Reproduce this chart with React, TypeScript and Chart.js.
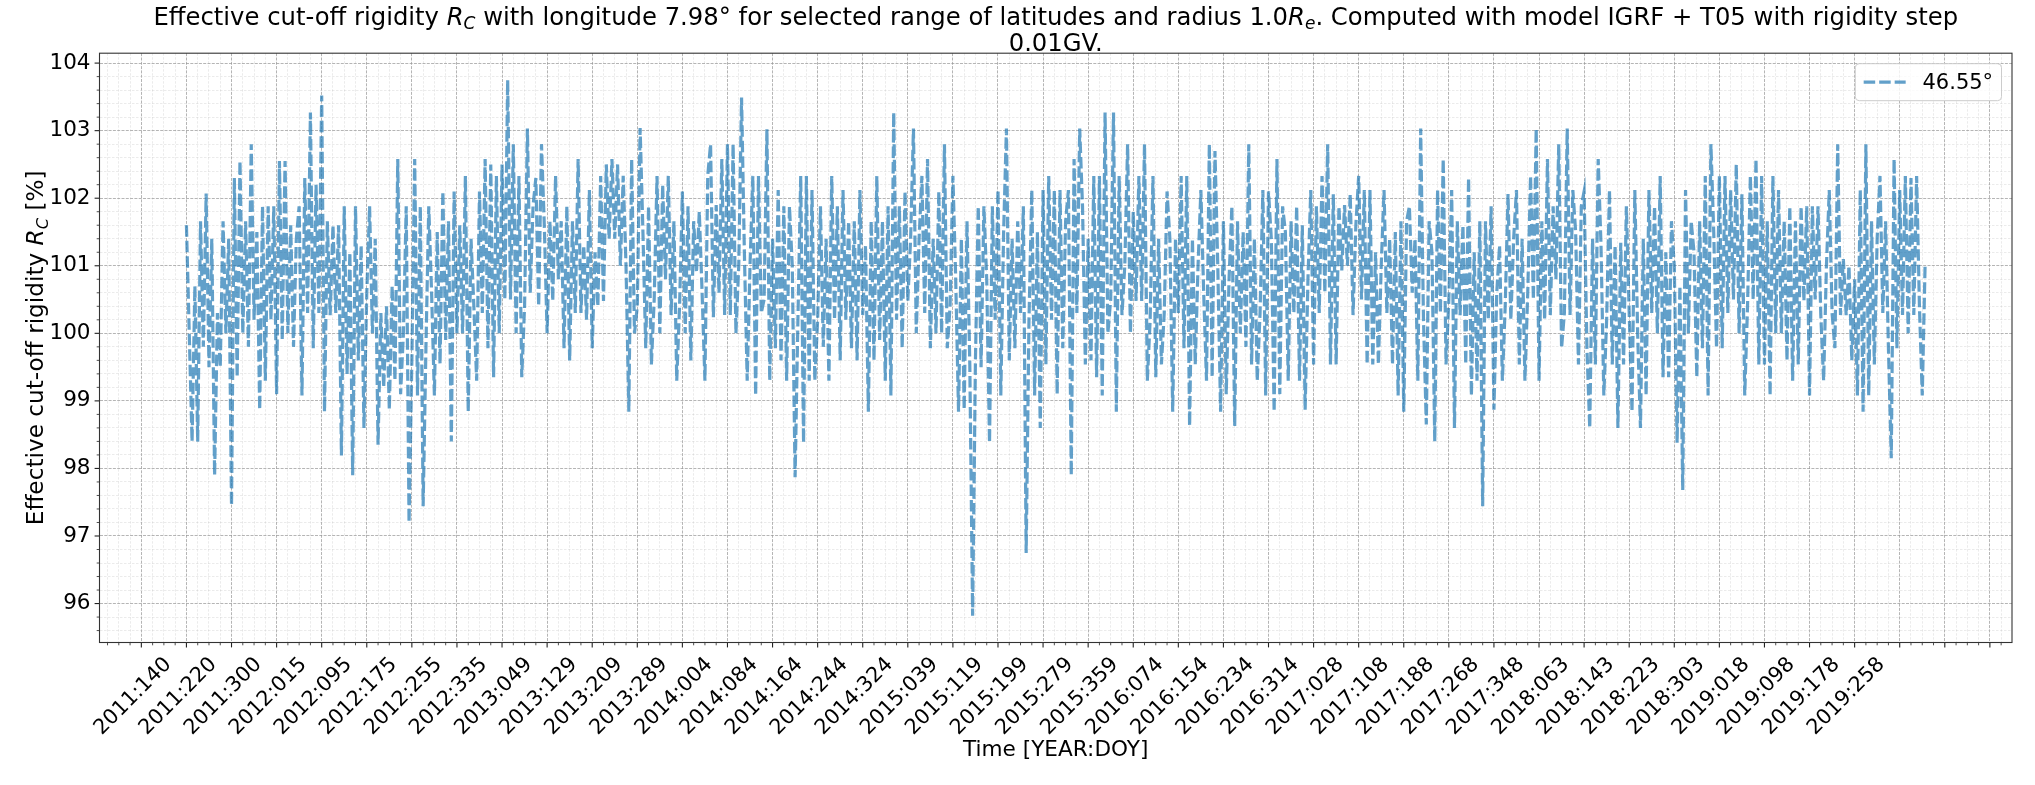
import React, { useEffect, useRef } from "react";
import { Chart, registerables } from "chart.js";

Chart.register(...registerables);

// ---------------- data ----------------
const SERIES_LABEL = "46.55°";
const DAY_STEP = 5; // one reading every 5 days, starting at the first day of the record

const rigidity: number[] = [
  // strip 1
  101.6, 100.0, 98.4, 100.7, 98.4, 101.66, 99.8, 102.07, 99.5, 101.4,
  97.9, 100.3, 99.5, 101.66, 100.0, 101.4, 97.45, 102.3, 99.35, 102.55,
  100.0, 101.66, 99.8, 102.8, 100.2, 101.5, 98.87, 101.88, 99.3, 101.88,
  100.2, 101.88, 99.1, 102.55, 99.9, 102.55, 100.0, 101.6, 99.8, 101.4,
  101.88, 99.08, 102.3, 100.3, 103.27, 99.78, 102.2, 100.3, 103.52, 98.84,
  101.66, 100.27, 101.6, 100.3, 101.6, 98.19, 101.88, 99.4, 101.2, 97.9,
  101.88, 99.6,
  // strip 2
  101.3, 98.6, 100.6, 101.88, 100.0, 101.4, 98.35, 100.3, 99.2, 100.4,
  98.87, 100.7, 99.3, 102.58, 99.1, 100.0, 101.88, 97.2, 99.6, 102.58,
  99.08, 101.88, 97.44, 99.8, 101.88, 100.6, 99.08, 101.5, 99.55, 102.1,
  99.9, 101.66, 98.4, 102.1, 100.0, 101.6, 100.0, 102.33, 98.84, 101.4,
  100.4, 99.3, 102.1, 100.3, 102.58, 99.78, 102.5, 99.35, 102.33, 100.0,
  102.5, 100.5, 103.75, 100.5, 102.8, 100.0, 102.33, 99.35, 100.4, 103.03,
  100.6, 101.88,
  // strip 3
  102.3, 100.4, 102.8, 101.6, 100.0, 101.66, 100.48, 102.33, 100.8, 101.66,
  99.78, 101.88, 99.6, 101.66, 100.3, 102.58, 100.3, 101.3, 100.2, 102.12,
  99.78, 101.2, 100.4, 102.33, 100.48, 102.5, 101.4, 102.58, 101.4, 102.5,
  101.0, 102.33, 101.0, 98.84, 102.58, 100.0, 100.4, 103.04, 101.5, 99.78,
  101.88, 99.54, 100.5, 102.33, 100.0, 102.2, 100.8, 102.33, 100.27, 101.66,
  99.3, 100.4, 102.1, 100.0, 101.88, 99.6, 101.66, 100.9, 101.8, 100.6,
  99.3, 102.33,
  // strip 4
  102.8, 100.24, 101.9, 100.6, 102.58, 100.27, 102.8, 100.27, 102.8, 100.0,
  101.0, 103.49, 101.2, 99.3, 101.0, 102.33, 99.08, 102.33, 100.3, 100.5,
  103.02, 99.3, 101.4, 99.78, 102.12, 99.6, 101.88, 99.3, 101.88, 101.0,
  97.87, 100.2, 102.33, 98.38, 102.33, 99.3, 102.12, 99.3, 100.2, 101.88,
  99.8, 101.4, 99.3, 102.33, 100.2, 101.88, 99.6, 102.12, 100.2, 101.66,
  99.78, 101.66, 99.6, 102.12, 100.27, 101.3, 98.84, 101.66, 99.6, 102.33,
  99.9, 101.66,
  // strip 5
  99.3, 101.88, 99.08, 103.27, 100.2, 101.88, 99.78, 102.1, 100.48, 101.4,
  103.03, 100.0, 101.4, 102.33, 100.3, 102.58, 99.78, 101.4, 100.0, 102.1,
  100.0, 102.8, 99.78, 100.4, 102.33, 100.8, 98.84, 101.4, 98.87, 101.66,
  99.54, 95.82, 99.6, 101.88, 99.5, 101.88, 100.8, 98.38, 101.88, 100.2,
  102.12, 99.08, 101.5, 103.03, 99.6, 101.4, 99.78, 101.66, 100.3, 101.88,
  96.75, 100.2, 102.12, 99.08, 101.5, 98.6, 102.12, 99.54, 102.33, 100.2,
  102.12, 99.1,
  // strip 6
  102.12, 99.78, 101.66, 102.12, 97.9, 102.58, 100.3, 103.03, 101.88, 99.54,
  101.4, 99.6, 102.33, 99.35, 102.33, 99.08, 103.27, 100.0, 100.5, 103.27,
  98.84, 102.33, 100.27, 101.0, 102.8, 100.0, 101.8, 100.48, 102.33, 100.48,
  102.8, 99.3, 100.2, 102.33, 99.35, 101.4, 99.54, 100.3, 102.1, 101.4,
  98.84, 101.4, 100.3, 102.33, 99.78, 102.33, 98.63, 101.4, 99.54, 101.0,
  102.12, 100.6, 99.3, 102.8, 99.35, 102.7, 101.0, 98.84, 101.66, 99.1,
  100.8, 101.88,
  // strip 7
  98.63, 101.66, 100.0, 101.5, 99.8, 102.8, 99.54, 101.4, 99.3, 100.3,
  102.12, 99.08, 102.1, 101.4, 98.84, 102.58, 99.1, 101.88, 101.5, 99.3,
  101.66, 100.3, 101.88, 99.3, 101.6, 98.87, 100.8, 102.12, 99.54, 101.88,
  100.3, 102.33, 100.6, 102.8, 99.54, 102.06, 99.54, 101.88, 100.93, 101.9,
  101.0, 102.06, 100.27, 101.6, 102.33, 100.5, 102.12, 99.54, 102.12, 99.54,
  101.2, 99.54, 101.0, 102.12, 100.3, 101.4, 99.54, 101.5, 99.08, 101.66,
  98.84, 101.66,
  // strip 8
  101.88, 100.6, 101.4, 99.3, 103.03, 100.2, 98.65, 101.66, 101.2, 98.4,
  102.12, 100.3, 102.58, 99.54, 100.5, 102.12, 98.6, 101.66, 100.27, 101.6,
  99.54, 102.3, 99.08, 101.2, 99.3, 101.66, 97.44, 101.66, 100.2, 101.88,
  98.87, 100.6, 101.3, 99.3, 100.4, 102.06, 100.2, 101.4, 102.12, 99.54,
  101.4, 99.3, 100.6, 102.33, 100.5, 103.03, 99.3, 101.66, 100.2, 102.58,
  100.27, 101.88, 100.8, 102.8, 99.78, 100.3, 103.03, 100.27, 102.12, 101.5,
  99.54, 101.88,
  // strip 9
  102.1, 99.78, 98.6, 101.4, 99.54, 102.58, 101.3, 99.08, 100.2, 102.12,
  99.54, 101.3, 98.6, 101.34, 99.54, 101.88, 100.3, 98.84, 102.12, 100.0,
  98.6, 101.4, 99.08, 102.12, 100.3, 101.88, 100.0, 102.33, 99.35, 101.2,
  99.35, 101.66, 101.0, 98.38, 100.7, 97.68, 102.12, 100.0, 101.66, 101.2,
  99.35, 101.66, 99.78, 102.33, 99.08, 102.8, 101.5, 99.78, 102.33, 99.78,
  102.33, 100.3, 102.12, 100.5, 102.5, 100.0, 102.06, 99.08, 100.4, 102.33,
  100.5, 102.58,
  // strip 10
  99.54, 102.33, 99.54, 101.66, 99.08, 102.33, 100.0, 102.12, 100.0, 101.66,
  99.6, 101.88, 99.3, 101.66, 99.54, 101.88, 100.48, 101.88, 99.08, 101.88,
  100.5, 101.88, 100.27, 99.3, 101.0, 102.12, 100.3, 99.78, 102.8, 100.27,
  101.1, 100.27, 101.0, 99.6, 100.8, 99.08, 102.12, 98.84, 102.8, 99.08,
  101.66, 99.54, 101.4, 102.33, 100.3, 101.66, 99.78, 98.15, 102.58, 99.78,
  102.12, 100.27, 102.33, 100.0, 102.3, 100.27, 102.33, 100.4, 99.08, 101.0,
];

// labels of the major ticks (one every 80 days), as printed under the axis
const tickLabels: string[] = [
  "2011:140", "2011:220", "2011:300", "2012:015", "2012:095", "2012:175",
  "2012:255", "2012:335", "2013:049", "2013:129", "2013:209", "2013:289",
  "2014:004", "2014:084", "2014:164", "2014:244", "2014:324", "2015:039",
  "2015:119", "2015:199", "2015:279", "2015:359", "2016:074", "2016:154",
  "2016:234", "2016:314", "2017:028", "2017:108", "2017:188", "2017:268",
  "2017:348", "2018:063", "2018:143", "2018:223", "2018:303", "2019:018",
  "2019:098", "2019:178", "2019:258",
];

const X_TITLE = "Time [YEAR:DOY]";
const MAJOR_X = 80;
const MINOR_X = 20;

// ---------------- styling ----------------
const FONT = '"DejaVu Sans", "Liberation Sans", sans-serif';
const W = 2035;
const H = 785;
const AREA = { left: 99.5, top: 53.2, right: 2012, bottom: 642.5 };
const X_TICK_FS = 20.8;
const Y_TICK_FS = 21.5;
const X_LABEL_FS = 21.6;
const Y_LABEL_FS = 23.2;
const TITLE_FS = 24.3;
const LEGEND_FS = 21;
const LINE_COLOR = "rgba(31,119,180,0.7)";
const LINE_DASH = [11.5, 4];
const LINE_WIDTH = 3.2;
const GRID_MAJOR = "rgba(150,150,150,0.7)";
const GRID_MINOR = "rgba(170,170,170,0.3)";

type Seg = { t: string; k?: "i" | "s" };

const titleLine1: Seg[] = [
  { t: "Effective cut-off rigidity " },
  { t: "R", k: "i" },
  { t: "C", k: "s" },
  { t: " with longitude 7.98° for selected range of latitudes and radius 1.0" },
  { t: "R", k: "i" },
  { t: "e", k: "s" },
  { t: ". Computed with model IGRF + T05 with rigidity step" },
];
const titleLine2: Seg[] = [{ t: "0.01GV." }];
const yTitle: Seg[] = [
  { t: "Effective cut-off rigidity " },
  { t: "R", k: "i" },
  { t: "C", k: "s" },
  { t: " [%]" },
];

function segFont(k: Seg["k"], size: number) {
  if (k === "i") return `italic ${size}px ${FONT}`;
  if (k === "s") return `italic ${size * 0.7}px ${FONT}`;
  return `${size}px ${FONT}`;
}

function drawRich(
  ctx: CanvasRenderingContext2D,
  segs: Seg[],
  size: number,
  cx: number,
  baseY: number,
  rotate: boolean
) {
  ctx.save();
  let total = 0;
  const widths = segs.map((s) => {
    ctx.font = segFont(s.k, size);
    const w = ctx.measureText(s.t).width;
    total += w;
    return w;
  });
  ctx.translate(cx, baseY);
  if (rotate) ctx.rotate(-Math.PI / 2);
  ctx.fillStyle = "#000";
  ctx.textBaseline = "alphabetic";
  ctx.textAlign = "left";
  let x = -total / 2;
  segs.forEach((s, i) => {
    ctx.font = segFont(s.k, size);
    const dy = s.k === "s" ? size * 0.2 : 0;
    ctx.fillText(s.t, x, dy);
    x += widths[i];
  });
  ctx.restore();
}

const isMajorX = (v: number) => Math.abs(v % MAJOR_X) < 1e-6;
const isMajorY = (v: number) => Math.abs(v - Math.round(v)) < 1e-6;

const decorPlugin = {
  id: "decor",
  afterDraw(chart: any) {
    const ctx: CanvasRenderingContext2D = chart.ctx;
    const a = chart.chartArea;
    const xs = chart.scales.x;
    const ys = chart.scales.y;
    ctx.save();
    // tick marks
    ctx.strokeStyle = "#222";
    xs.ticks.forEach((t: any) => {
      const px = xs.getPixelForValue(t.value);
      const major = isMajorX(t.value);
      ctx.lineWidth = major ? 1.1 : 0.8;
      ctx.beginPath();
      ctx.moveTo(px, a.bottom);
      ctx.lineTo(px, a.bottom + (major ? 4.9 : 2.8));
      ctx.stroke();
    });
    ys.ticks.forEach((t: any) => {
      const py = ys.getPixelForValue(t.value);
      const major = isMajorY(t.value);
      ctx.lineWidth = major ? 1.1 : 0.8;
      ctx.beginPath();
      ctx.moveTo(a.left, py);
      ctx.lineTo(a.left - (major ? 4.9 : 2.8), py);
      ctx.stroke();
    });
    // spines
    ctx.strokeStyle = "#333";
    ctx.lineWidth = 1.1;
    ctx.strokeRect(a.left, a.top, a.right - a.left, a.bottom - a.top);

    // title
    const cx = (a.left + a.right) / 2;
    drawRich(ctx, titleLine1, TITLE_FS, cx, 24.5, false);
    drawRich(ctx, titleLine2, TITLE_FS, cx, 50.5, false);

    // y axis title
    drawRich(ctx, yTitle, Y_LABEL_FS, 43, (a.top + a.bottom) / 2, true);

    // legend
    const fs = LEGEND_FS;
    ctx.font = `${fs}px ${FONT}`;
    const tw = ctx.measureText(SERIES_LABEL).width;
    const bw = 0.4 * fs + 2 * fs + 0.8 * fs + tw + 0.4 * fs;
    const bh = 37;
    const bx = a.right - 0.5 * fs - bw;
    const by = a.top + 0.5 * fs;
    ctx.beginPath();
    (ctx as any).roundRect(bx, by, bw, bh, 4);
    ctx.fillStyle = "rgba(255,255,255,0.8)";
    ctx.fill();
    ctx.strokeStyle = "#cccccc";
    ctx.lineWidth = 1;
    ctx.stroke();
    const cy = by + bh / 2;
    ctx.beginPath();
    ctx.setLineDash(LINE_DASH);
    ctx.strokeStyle = LINE_COLOR;
    ctx.lineWidth = LINE_WIDTH;
    ctx.moveTo(bx + 0.4 * fs, cy);
    ctx.lineTo(bx + 2.4 * fs, cy);
    ctx.stroke();
    ctx.setLineDash([]);
    ctx.fillStyle = "#000";
    ctx.textBaseline = "middle";
    ctx.textAlign = "left";
    ctx.fillText(SERIES_LABEL, bx + 3.2 * fs, cy + 1);
    ctx.restore();
  },
};

export default function App() {
  const ref = useRef<HTMLCanvasElement>(null);
  useEffect(() => {
    const canvas = ref.current;
    if (!canvas) return;
    const points = rigidity.map((v, i) => ({ x: i * DAY_STEP, y: v }));
    const lastDay = (rigidity.length - 1) * DAY_STEP;
    const yMin = Math.min(...rigidity);
    const yMax = Math.max(...rigidity);
    const yPad = (yMax - yMin) * 0.05;

    const chart = new Chart(canvas, {
      type: "line",
      data: {
        datasets: [
          {
            label: SERIES_LABEL,
            data: points,
            borderColor: LINE_COLOR,
            backgroundColor: LINE_COLOR,
            borderWidth: LINE_WIDTH,
            borderDash: LINE_DASH,
            pointRadius: 0,
            tension: 0,
            fill: false,
          },
        ],
      },
      options: {
        animation: false,
        responsive: false,
        maintainAspectRatio: false,
        devicePixelRatio: 1,
        events: [],
        layout: {
          padding: { left: 0, top: AREA.top, right: W - AREA.right, bottom: 0 },
        },
        plugins: {
          legend: { display: false },
          title: { display: false },
          tooltip: { enabled: false },
        },
        scales: {
          x: {
            type: "linear",
            bounds: "data",
            min: -0.05 * lastDay,
            max: 1.05 * lastDay,
            afterFit: (s: any) => {
              s.height = H - AREA.bottom;
            },
            afterBuildTicks: (s: any) => {
              const t = [];
              for (let v = Math.ceil(s.min / MINOR_X) * MINOR_X; v <= s.max; v += MINOR_X) {
                t.push({ value: v });
              }
              s.ticks = t;
            },
            ticks: {
              autoSkip: false,
              minRotation: 45,
              maxRotation: 45,
              padding: 10,
              labelOffset: 27,
              color: "#000",
              font: { family: FONT, size: X_TICK_FS },
              callback: (v: any) => {
                const n = Number(v);
                if (!isMajorX(n)) return "";
                return tickLabels[Math.round(n / MAJOR_X) + 1] ?? "";
              },
            },
            grid: {
              drawTicks: false,
              color: (c: any) => (c.tick && isMajorX(c.tick.value) ? GRID_MAJOR : GRID_MINOR),
              lineWidth: (c: any) => (c.tick && isMajorX(c.tick.value) ? 1 : 0.8),
            },
            border: {
              display: false,
              dash: (c: any) => (c.tick && isMajorX(c.tick.value) ? [3, 1.3] : [2.5, 1.5]),
            },
            title: {
              display: true,
              text: X_TITLE,
              color: "#000",
              font: { family: FONT, size: X_LABEL_FS },
              padding: { top: 0, bottom: 22 },
            },
          },
          y: {
            type: "linear",
            bounds: "data",
            min: yMin - yPad,
            max: yMax + yPad,
            afterFit: (s: any) => {
              s.width = AREA.left;
            },
            afterBuildTicks: (s: any) => {
              const t = [];
              for (let k = Math.ceil(s.min * 5); k <= Math.floor(s.max * 5); k++) {
                t.push({ value: k / 5 });
              }
              s.ticks = t;
            },
            ticks: {
              autoSkip: false,
              padding: 9,
              color: "#000",
              font: { family: FONT, size: Y_TICK_FS },
              callback: (v: any) => {
                const n = Number(v);
                return isMajorY(n) ? String(Math.round(n)) : "";
              },
            },
            grid: {
              drawTicks: false,
              color: (c: any) => (c.tick && isMajorY(c.tick.value) ? GRID_MAJOR : GRID_MINOR),
              lineWidth: (c: any) => (c.tick && isMajorY(c.tick.value) ? 1 : 0.8),
            },
            border: {
              display: false,
              dash: (c: any) => (c.tick && isMajorY(c.tick.value) ? [3, 1.3] : [2.5, 1.5]),
            },
          },
        },
      },
      plugins: [decorPlugin],
    });
    return () => chart.destroy();
  }, []);

  return (
    <div style={{ position: "absolute", left: 0, top: 0, width: W, height: H, background: "#fff" }}>
      <canvas ref={ref} width={W} height={H} style={{ width: W, height: H, display: "block" }} />
    </div>
  );
}
